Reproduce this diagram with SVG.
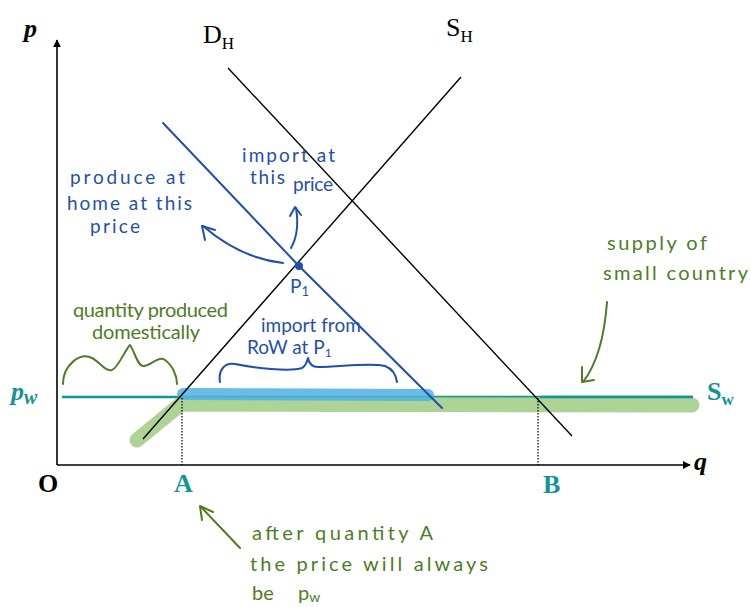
<svg xmlns="http://www.w3.org/2000/svg" width="751" height="607" viewBox="0 0 751 607">
<style>
.ax{stroke:#000;stroke-width:1.6;fill:none}
.crv{stroke:#000;stroke-width:1.4;fill:none}
.dot{stroke:#000;stroke-width:1.2;stroke-dasharray:1.5 1.5;fill:none}
.lab{font-family:"Liberation Serif","Times New Roman",serif;font-size:26px;fill:#000}
.teal{fill:#129494}
.hb{font-family:"Lato","Noto Sans",sans-serif;font-size:19px;fill:#1f4fb0}
.hg{font-family:"Lato","Noto Sans",sans-serif;font-size:20px;fill:#4d7d26}
.pb{stroke:#1f4fb0;stroke-width:2;fill:none;stroke-linecap:round;stroke-linejoin:round}
.pg{stroke:#4d7d26;stroke-width:2;fill:none;stroke-linecap:round;stroke-linejoin:round}
</style>
<rect width="751" height="607" fill="#fff"/>
<defs>
<marker id="ah" viewBox="0 0 10 10" refX="9" refY="5" markerWidth="8" markerHeight="8" orient="auto" markerUnits="userSpaceOnUse">
<path d="M0,0 L10,5 L0,10 Z" fill="#000"/>
</marker>
</defs>

<g id="axes">
<line class="ax" x1="57" y1="465" x2="57" y2="40" marker-end="url(#ah)"/>
<line class="ax" x1="57" y1="465" x2="690" y2="465" marker-end="url(#ah)"/>
<text class="lab" x="24" y="37" font-weight="bold" font-style="italic">p</text>
<text class="lab" x="694" y="470" font-weight="bold" font-style="italic">q</text>
<text class="lab" x="38" y="492" font-weight="bold" font-size="24">O</text>
<text class="lab teal" x="174" y="492" font-weight="bold" font-size="24">A</text>
<text class="lab teal" x="543" y="493" font-weight="bold" font-size="24">B</text>
</g>

<g id="highlights">
<line x1="62" y1="397" x2="693" y2="397" stroke="#129494" stroke-width="2.5"/>
<path d="M137,440 L181,404 L692,405" stroke="#9fcc84" stroke-width="15" fill="none" stroke-linecap="round" stroke-linejoin="round" opacity="0.85"/>
<path d="M183,394 L428,395" stroke="#4fb0e0" stroke-width="12" fill="none" stroke-linecap="round" opacity="0.85"/>
<line x1="540" y1="397" x2="693" y2="397" stroke="#129494" stroke-width="2.5"/>
</g>

<g id="curves">
<line class="crv" x1="228" y1="68" x2="572" y2="436"/>
<line class="crv" x1="461" y1="77" x2="143" y2="439"/>
<line class="dot" x1="182" y1="398" x2="182" y2="465"/>
<line class="dot" x1="538" y1="398" x2="538" y2="465"/>
<text class="lab" x="203" y="43">D<tspan font-size="17" dy="6">H</tspan></text>
<text class="lab" x="446" y="36">S<tspan font-size="17" dy="6">H</tspan></text>
<text class="lab teal" x="11" y="400" font-weight="bold" font-style="italic" font-size="32">p<tspan font-size="20" dy="4">w</tspan></text>
<text class="lab teal" x="707" y="400" font-weight="bold" font-size="25">S<tspan font-size="17" dy="5">w</tspan></text>
</g>

<g id="blue-notes">
<path class="pb" d="M163,123 L299,266 L442,408"/>
<circle cx="299" cy="266" r="4" fill="#1f4fb0"/>
<text class="hb" x="290" y="293">P<tspan font-size="13" dy="3">1</tspan></text>
<text class="hb" x="70" y="184" textLength="115" lengthAdjust="spacing">produce at</text>
<text class="hb" x="67" y="210" textLength="125" lengthAdjust="spacing">home at this</text>
<text class="hb" x="90" y="233" textLength="50" lengthAdjust="spacing">price</text>
<text class="hb" x="242" y="162" textLength="93" lengthAdjust="spacing">import at</text>
<text class="hb" x="250" y="184" textLength="35" lengthAdjust="spacing">this</text>
<text class="hb" x="293" y="191" textLength="40" lengthAdjust="spacing">price</text>
<text class="hb" x="261" y="332" font-size="16">import from</text>
<text class="hb" x="247" y="354" font-size="16">RoW at P<tspan font-size="12" dy="3">1</tspan></text>
<path class="pb" d="M283,263 Q240,258 203,226"/>
<path class="pb" d="M205,240 L202,226 L215,230"/>
<path class="pb" d="M291,248 Q300,232 296,208"/>
<path class="pb" d="M290,216 L295,207 L301,215"/>
<path class="pb" d="M220,382 C218,370 225,362 235,364 C255,368 290,372 302,368 C306,366 307,362 308,358 C309,363 311,367 318,367 C340,367 370,362 385,366 C393,369 396,375 397,382"/>
</g>

<g id="green-notes">
<text class="hg" x="73" y="317" font-size="17" textLength="155" lengthAdjust="spacing">quantity produced</text>
<text class="hg" x="92" y="339" font-size="17" textLength="108" lengthAdjust="spacing">domestically</text>
<path class="pg" d="M63,384 C63,365 80,352 92,358 C100,362 105,372 112,370 C118,368 125,350 130,345 C134,350 137,365 143,366 C150,367 158,355 165,360 C172,365 177,375 177,384"/>
<text class="hg" x="607" y="250" textLength="100" lengthAdjust="spacing">supply of</text>
<text class="hg" x="603" y="280" textLength="145" lengthAdjust="spacing">small country</text>
<path class="pg" d="M607,302 C605,330 600,360 583,382"/>
<path class="pg" d="M582,367 L582,382 L594,380"/>
<path class="pg" d="M240,548 L201,507"/>
<path class="pg" d="M213,512 L200,506 L202,520"/>
<text class="hg" x="252" y="540" textLength="181" lengthAdjust="spacing">after quantity A</text>
<text class="hg" x="250" y="571" textLength="238" lengthAdjust="spacing">the price will always</text>
<text class="hg" x="252" y="600">be</text>
<text class="hg" x="298" y="600">p<tspan font-size="14" dy="2">w</tspan></text>
</g>
</svg>
